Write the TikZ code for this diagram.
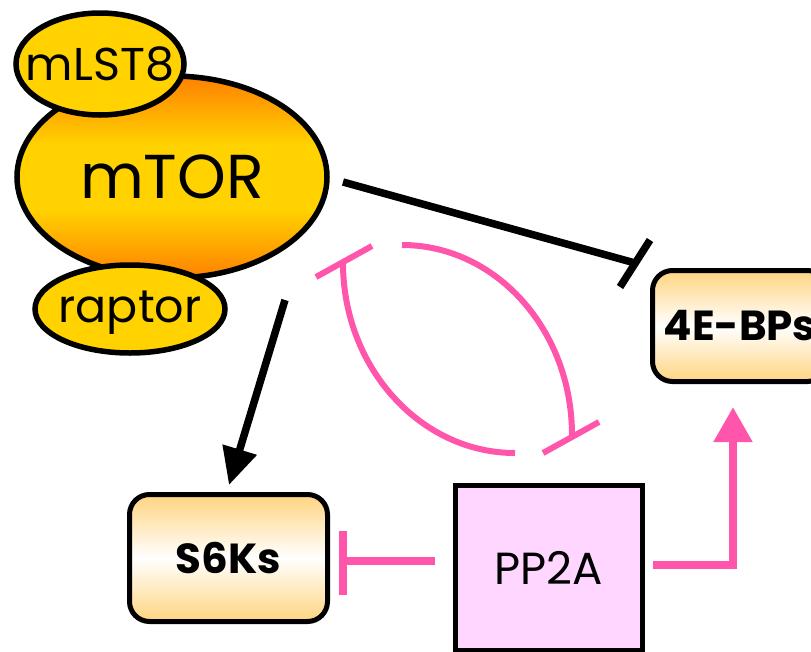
\documentclass[tikz,border=0pt]{standalone}
\usepackage{fontspec}
\setmainfont{Poppins}
\usetikzlibrary{arrows.meta,shapes.geometric}
\definecolor{orng}{RGB}{255,128,0}
\definecolor{yel}{RGB}{255,210,0}
\definecolor{boxor}{RGB}{255,212,128}
\definecolor{ppfill}{RGB}{255,214,255}
\definecolor{pinkc}{RGB}{255,85,170}
\pgfdeclareverticalshading{mtorshade}{100bp}{color(0bp)=(orng); color(25bp)=(orng); color(42bp)=(yel); color(58bp)=(yel); color(75bp)=(orng); color(100bp)=(orng)}
\begin{document}
\begin{tikzpicture}[x=1pt,y=-1pt,
  blob/.style={ellipse, draw=black, line width=5.5pt, inner sep=0pt},
  lbl/.style={inner sep=0pt},
  protbox/.style={rectangle, rounded corners=20pt, draw=black, line width=5pt,
    top color=boxor, bottom color=boxor, middle color=white, inner sep=0pt,
    font=\bfseries\fontsize{42}{42}\selectfont},
  blk/.style={draw=black, line width=7.5pt},
  pinkthick/.style={draw=pinkc, line width=8pt, line join=miter},
  pinkarc/.style={draw=pinkc, line width=6pt}
]
\useasboundingbox (0,0) rectangle (811,651);
% mTOR complex
\node[blob, shading=mtorshade, minimum width=310pt, minimum height=202pt,
      font=\fontsize{62}{62}\selectfont] (mtor) at (172,177) {mTOR};
\node[blob, fill=yel, minimum width=168pt, minimum height=102pt] (mlst8) at (100,64) {};
\node[lbl, font=\fontsize{46}{46}\selectfont] (mlst8lbl) at (100,64) {mLST8};
\node[blob, fill=yel, minimum width=190pt, minimum height=88pt] (raptor) at (130,309) {};
\node[lbl, font=\fontsize{46}{46}\selectfont] (raptorlbl) at (130,313) {raptor};
% targets
\node[protbox, minimum width=175pt, minimum height=111pt] (ebp) at (740,326) {4E-BPs};
\node[protbox, minimum width=198pt, minimum height=127pt] (s6k) at (228.5,558) {S6Ks};
\node[rectangle, draw=black, line width=5pt, fill=ppfill, minimum width=187pt,
      minimum height=165pt, inner sep=0pt, font=\fontsize{45}{45}\selectfont] (pp2a) at (549,568) {PP2A};
% mTOR -| 4E-BPs
\coordinate (ib1) at (343,182);
\coordinate (ib2) at (635,263);
\coordinate (ibA) at (620,287);
\coordinate (ibB) at (650,240);
\draw[blk] (ib1) -- (ib2);
\draw[blk] (ibA) -- (ibB);
% mTOR -> S6Ks
\coordinate (ar1) at (285,300);
\coordinate (ar2) at (229,485);
\draw[blk, -{Triangle[length=37pt,width=34pt]}] (ar1) -- (ar2);
% PP2A -| S6Ks
\coordinate (pi1) at (435,561);
\coordinate (pi2) at (343,561);
\coordinate (piA) at (343,531);
\coordinate (piB) at (343,595);
\draw[pinkthick] (pi1) -- (pi2);
\draw[pinkthick] (piA) -- (piB);
% PP2A -> 4E-BPs
\coordinate (pa1) at (653,565);
\coordinate (pa2) at (733,407);
\draw[pinkthick, -{Triangle[length=35pt,width=37pt]}] (pa1) -| (pa2);
% PP2A -| mTOR
\coordinate (la1) at (515,453);
\coordinate (la2) at (343,263);
\coordinate (laA) at (316,277);
\coordinate (laB) at (372,246);
\draw[pinkarc] (la1) .. controls (420,453) and (343,367) .. (la2);
\draw[pinkarc] (laA) -- (laB);
% mTOR -| PP2A
\coordinate (ra1) at (402,245);
\coordinate (ra2) at (572,435);
\coordinate (raA) at (543,453);
\coordinate (raB) at (599,422);
\draw[pinkarc] (ra1) .. controls (496,245) and (572,330) .. (ra2);
\draw[pinkarc] (raA) -- (raB);
\end{tikzpicture}
\end{document}
